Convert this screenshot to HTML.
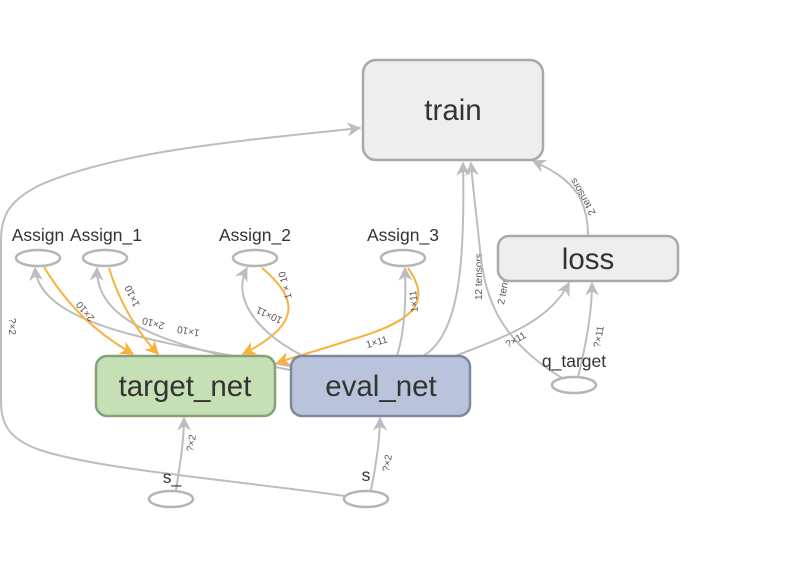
<!DOCTYPE html>
<html><head><meta charset="utf-8"><style>
html,body{margin:0;padding:0;background:#fff;}
svg{display:block;font-family:"Liberation Sans","DejaVu Sans",sans-serif;}
.e{fill:none;stroke:#bdbdbd;stroke-width:2;}
.o{fill:none;stroke:#fbb03b;stroke-width:2;}
.lb{font-size:10px;fill:#555;}
.nl{font-size:17.5px;fill:#333;text-anchor:middle;}
.ell{fill:#fff;stroke:#b5b5b5;stroke-width:2.5;}
.big{font-size:29.5px;fill:#333;text-anchor:middle;}
</style></head><body>
<svg width="798" height="569" viewBox="0 0 798 569">
<defs>
<marker id="ag" viewBox="0 0 10 10" refX="9" refY="5" markerWidth="7" markerHeight="7" orient="auto"><path d="M0,0 L10,5 L0,10 L3,5 z" fill="#bdbdbd"/></marker>
<marker id="ao" viewBox="0 0 10 10" refX="9" refY="5" markerWidth="7" markerHeight="7" orient="auto"><path d="M0,0 L10,5 L0,10 L3,5 z" fill="#fbb03b"/></marker>
</defs>

<path class="e" marker-end="url(#ag)" d="M345,496 C250,482 100,470 40,450 C5,438 1,420 1,400 L1,240 C1,215 10,200 40,185 C120,150 250,140 360,128"/>
<text class="lb" transform="translate(9,318) rotate(90)">?×2</text>

<path class="e" marker-end="url(#ag)" d="M176,490 C180,465 184,440 184,418"/>
<text class="lb" transform="translate(193,452) rotate(-80)">?×2</text>
<path class="e" marker-end="url(#ag)" d="M371,490 C376,465 380,440 380,418"/>
<text class="lb" transform="translate(389,472) rotate(-80)">?×2</text>

<path class="e" marker-end="url(#ag)" d="M300,368 C180,345 40,330 35,268"/>
<path class="e" marker-end="url(#ag)" d="M300,372 C190,350 95,330 97,268"/>
<text class="lb" transform="translate(200,330) rotate(-170)">1×10</text>
<text class="lb" transform="translate(165,323) rotate(-165)">2×10</text>

<path class="o" marker-end="url(#ao)" d="M44,267 C70,310 100,335 133,354"/>
<text class="lb" transform="translate(95,318) rotate(-130)">2×10</text>
<path class="o" marker-end="url(#ao)" d="M109,268 C120,305 140,335 158,354"/>
<text class="lb" transform="translate(140,305) rotate(-115)">1×10</text>
<path class="o" marker-end="url(#ao)" d="M262,268 C300,300 300,325 243,354"/>
<text class="lb" transform="translate(292,298) rotate(-105)">1 × 10</text>
<path class="o" marker-end="url(#ao)" d="M408,268 C430,300 420,320 350,340 C320,350 300,355 277,363"/>

<path class="e" marker-end="url(#ag)" d="M325,366 C260,340 230,300 247,268"/>
<text class="lb" transform="translate(283,318) rotate(-155)">10×11</text>
<path class="e" marker-end="url(#ag)" d="M397,356 C405,330 406,300 405,268"/>
<text class="lb" transform="translate(418,312) rotate(-95)">1×11</text>
<text class="lb" transform="translate(367,348) rotate(-15)">1×11</text>

<path class="e" marker-end="url(#ag)" d="M423,356 C460,335 465,260 463,163"/>
<text class="lb" transform="translate(482,300) rotate(-90)">12 tensors</text>
<path class="e" marker-end="url(#ag)" d="M562,378 C500,340 485,300 480,250 C476,210 473,190 471,163"/>
<text class="lb" transform="translate(504,305) rotate(-80)">2 tensors</text>
<path class="e" marker-end="url(#ag)" d="M455,356 C510,335 550,320 569,283"/>
<text class="lb" transform="translate(508,348) rotate(-30)">?×11</text>
<path class="e" marker-end="url(#ag)" d="M578,377 C586,345 592,310 592,283"/>
<text class="lb" transform="translate(600,348) rotate(-80)">?×11</text>
<path class="e" marker-end="url(#ag)" d="M588,236 C588,195 570,178 533,161"/>
<text class="lb" transform="translate(596,213) rotate(-120)">2 tensors</text>

<rect x="363" y="60" width="180" height="100" rx="13" fill="#eeeeee" stroke="#a9a9a9" stroke-width="2.5"/>
<text class="big" x="453" y="120">train</text>
<rect x="498" y="236" width="180" height="45" rx="11" fill="#eeeeee" stroke="#a9a9a9" stroke-width="2.5"/>
<text class="big" x="588" y="269">loss</text>
<rect x="96" y="356" width="179" height="60" rx="11" fill="#c5e0b4" stroke="#87a07a" stroke-width="2.5"/>
<text class="big" x="185" y="396">target_net</text>
<rect x="291" y="356" width="179" height="60" rx="11" fill="#b9c4dc" stroke="#7d889e" stroke-width="2.5"/>
<text class="big" x="381" y="396">eval_net</text>

<ellipse class="ell" cx="38" cy="258" rx="22" ry="8"/><text class="nl" x="38" y="241">Assign</text>
<ellipse class="ell" cx="105" cy="258" rx="22" ry="8"/><text class="nl" x="106" y="241">Assign_1</text>
<ellipse class="ell" cx="255" cy="258" rx="22" ry="8"/><text class="nl" x="255" y="241">Assign_2</text>
<ellipse class="ell" cx="403" cy="258" rx="22" ry="8"/><text class="nl" x="403" y="241">Assign_3</text>
<ellipse class="ell" cx="574" cy="385" rx="22" ry="8"/><text class="nl" x="574" y="367">q_target</text>
<ellipse class="ell" cx="171" cy="499" rx="22" ry="8"/><text class="nl" x="172" y="483">s_</text>
<ellipse class="ell" cx="366" cy="499" rx="22" ry="8"/><text class="nl" x="366" y="481">s</text>
</svg>
</body></html>
